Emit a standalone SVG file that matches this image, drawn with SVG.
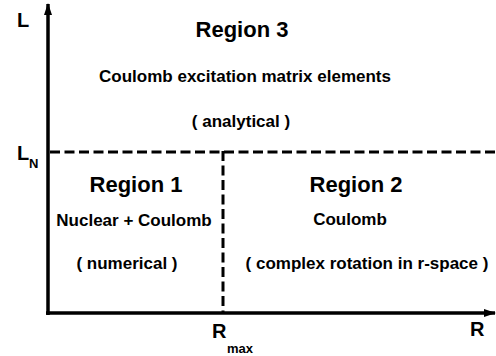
<svg xmlns="http://www.w3.org/2000/svg" width="496" height="356" viewBox="0 0 496 356">
<style>
text{font-family:"Liberation Sans",Arial,sans-serif;font-weight:bold;fill:#000}
.big{font-size:22px}
.mid{font-size:17px}
.ax{font-size:20px}
.sub{font-size:13px}
.axis{stroke:#000;stroke-width:3.5;fill:none}
.dash{stroke:#000;stroke-width:3;fill:none;stroke-dasharray:10 4.5}
</style>
<defs>
<marker id="arr" viewBox="0 0 12 8" refX="11" refY="4" markerWidth="12" markerHeight="8" markerUnits="userSpaceOnUse" orient="auto">
<path d="M0,0 L12,4 L0,8 z" fill="#000"/>
</marker>
</defs>
<g id="connectors">
<line class="axis" x1="48" y1="315" x2="48" y2="4" marker-end="url(#arr)"/>
<line class="axis" x1="46" y1="313" x2="495" y2="313" marker-end="url(#arr)"/>
<line class="dash" x1="50" y1="152" x2="496" y2="152"/>
<line class="dash" x1="223" y1="151" x2="223" y2="312"/>
</g>
<g id="axis-labels">
<text class="ax" x="17" y="27">L</text>
<text class="ax" x="17" y="160">L</text>
<text class="sub" x="29" y="168">N</text>
<text class="ax" x="212" y="338">R</text>
<text class="sub" x="227" y="353">max</text>
<text class="ax" x="470" y="336">R</text>
</g>
<g id="region3" text-anchor="middle">
<text class="big" x="242" y="37">Region 3</text>
<text class="mid" x="245" y="82">Coulomb excitation matrix elements</text>
<text class="mid" x="241" y="127">( analytical )</text>
</g>
<g id="region1" text-anchor="middle">
<text class="big" x="136" y="192">Region 1</text>
<text class="mid" x="134" y="226">Nuclear + Coulomb</text>
<text class="mid" x="127" y="269">( numerical )</text>
</g>
<g id="region2" text-anchor="middle">
<text class="big" x="356" y="192">Region 2</text>
<text class="mid" x="350" y="225">Coulomb</text>
<text class="mid" x="367" y="269">( complex rotation in r-space )</text>
</g>
</svg>
